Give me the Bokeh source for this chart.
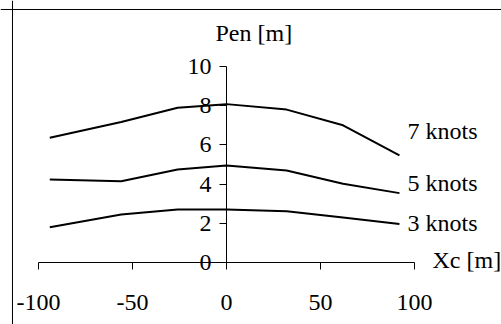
from bokeh.plotting import figure
from bokeh.models import LinearAxis, FixedTicker, Label, Span, Range1d
from bokeh.embed import file_html
from bokeh.resources import INLINE

# ---- data ----
xc = [-94, -56, -26, 0, 32, 62, 92]
pen_7 = [6.36, 7.17, 7.90, 8.08, 7.80, 7.00, 5.46]
pen_5 = [4.23, 4.15, 4.74, 4.95, 4.69, 4.02, 3.54]
pen_3 = [1.80, 2.45, 2.70, 2.70, 2.62, 2.30, 1.97]
series_names = ["7 knots", "5 knots", "3 knots"]
x_ticks = [-100, -50, 0, 50, 100]
y_ticks = [0, 2, 4, 6, 8, 10]
x_title = "Xc [m]"
y_title = "Pen [m]"

FONT = "Liberation Serif"
FS = "24px"

p = figure(width=501, height=324, output_backend="svg", toolbar_location=None,
           x_axis_type=None, y_axis_type=None,
           x_range=Range1d(-120.21, 146.28), y_range=Range1d(-3.163, 13.367),
           min_border=0, outline_line_color=None)
p.xgrid.visible = False
p.ygrid.visible = False
p.background_fill_color = "white"

def style_axis(ax):
    ax.axis_line_color = "black"
    ax.axis_line_width = 1
    ax.major_tick_line_color = "black"
    ax.major_tick_in = 0
    ax.major_tick_out = 7
    ax.minor_tick_line_color = None
    ax.major_label_text_font = FONT
    ax.major_label_text_font_size = FS
    ax.major_label_text_color = "black"

xaxis = LinearAxis(fixed_location=0, bounds=(-100, 100), ticker=FixedTicker(ticks=x_ticks))
style_axis(xaxis)
xaxis.major_label_standoff = 25
xaxis.major_label_overrides = {t: str(t) for t in x_ticks}
p.add_layout(xaxis, "below")

yaxis = LinearAxis(fixed_location=0, bounds=(0, 10), ticker=FixedTicker(ticks=y_ticks))
style_axis(yaxis)
yaxis.major_label_standoff = 8
p.add_layout(yaxis, "left")

for ys in (pen_7, pen_5, pen_3):
    p.line(xc, ys, line_color="black", line_width=2)

label_pos = [(96.3, 6.73), (96.3, 4.08), (96.3, 2.04)]
for name, (lx, ly) in zip(series_names, label_pos):
    p.add_layout(Label(x=lx, y=ly, text=name, text_font=FONT, text_font_size=FS,
                       text_baseline="middle", text_align="left", text_color="black"))

p.add_layout(Label(x=-5.85, y=11.73, text=y_title, text_font=FONT, text_font_size=FS,
                   text_baseline="middle", text_align="left", text_color="black"))
p.add_layout(Label(x=109.6, y=0.15, text=x_title, text_font=FONT, text_font_size=FS,
                   text_baseline="middle", text_align="left", text_color="black"))

p.add_layout(Span(location=-113.83, dimension="height", line_color="black", line_width=1))
p.add_layout(Span(location=12.908, dimension="width", line_color="black", line_width=1))

open("out.html", "w").write(file_html(p, INLINE))
